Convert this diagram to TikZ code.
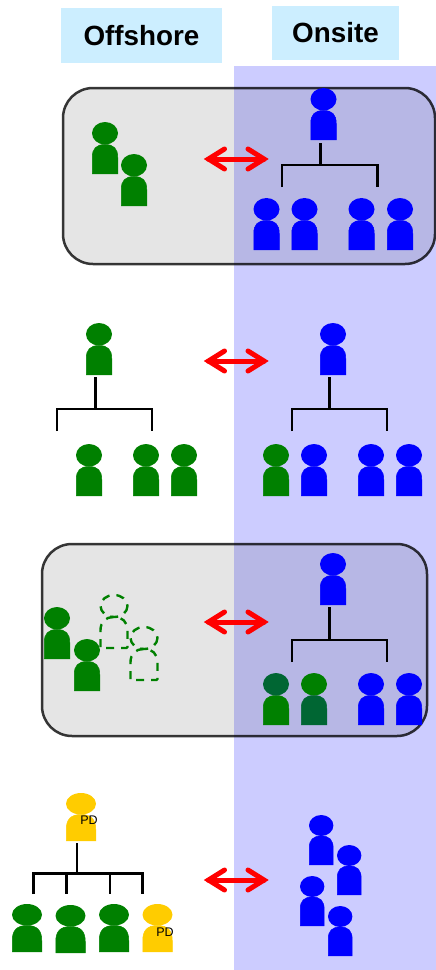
\documentclass[tikz,border=0pt]{standalone}
\usepackage{fontspec}
\setmainfont{Liberation Sans}
\definecolor{zone}{HTML}{CCCCFF}
\definecolor{hdr}{HTML}{CCEEFF}
\definecolor{gr}{HTML}{008000}
\definecolor{dk}{HTML}{006633}
\definecolor{bl}{HTML}{0000FF}
\definecolor{ye}{HTML}{FFCC00}
\tikzset{
  x=1pt,y=-1pt,
  hdrbox/.style={fill=hdr,draw=none,inner sep=0pt,font=\bfseries\fontsize{27.8}{30}\selectfont},
  groupbox/.style={rounded corners=30pt,line width=2.5pt,draw=black,draw opacity=.78,fill=black,fill opacity=.1},
  twoway/.style={red,line width=5pt,line cap=round,line join=miter,miter limit=10},
  treeline/.style={black,line width=2.4pt},
  pdlabel/.style={inner sep=0pt,font=\fontsize{12.5}{14}\selectfont},
  slot/.style={inner sep=0pt,outer sep=0pt,draw=none,rectangle},
  ghost/.style={gr,line width=2.4pt,dash pattern=on 8pt off 7pt,rounded corners=1pt},
}
% name, left, top, width, head height, total height, head colour, body colour
\newcommand\person[8]{%
  \pgfmathsetmacro\pa{#2+#4/2}\pgfmathsetmacro\pb{#3+#5/2}%
  \pgfmathsetmacro\pc{#2+#4}\pgfmathsetmacro\pd{#3+#6}%
  \pgfmathsetmacro\pe{#3+#5}\pgfmathsetmacro\pr{#4/2}%
  \pgfmathsetmacro\pf{\pe+\pr}\pgfmathsetmacro\pk{.68*\pr}\pgfmathsetmacro\pl{.34*#4}%
  \filldraw[#8,line width=.5pt] (#2+.25,\pd-.25) -- (#2+.25,\pf) .. controls (#2+.25,\pf-\pk) and (\pa-\pl,\pe) .. (\pa,\pe)
     .. controls (\pa+\pl,\pe) and (\pc-.25,\pf-\pk) .. (\pc-.25,\pf) -- (\pc-.25,\pd-.25) -- cycle;
  \fill[#7] (\pa,\pb) ellipse [x radius=#4/2,y radius=#5/2];
  \node[slot,minimum width=#4,minimum height=#6] (#1) at (\pa,{#3+#6/2}) {};%
}
\newcommand\blueman[3]{\person{#1}{#2}{#3}{26}{22.5}{52}{bl}{bl}}
\newcommand\greenman[3]{\person{#1}{#2}{#3}{26}{22.5}{52}{gr}{gr}}
\newcommand\bigman[5]{\person{#1}{#2}{#3}{30}{21.5}{48}{#4}{#5}}
% name, left, top
\newcommand\ghostman[3]{%
  \pgfmathsetmacro\pa{#2+13.5}\pgfmathsetmacro\pb{#3+11}%
  \pgfmathsetmacro\pc{#2+27}\pgfmathsetmacro\pd{#3+53}\pgfmathsetmacro\pe{#3+22}\pgfmathsetmacro\pf{#3+36}%
  \draw[ghost] (#2,\pd) -- (#2,\pf) .. controls (#2,{\pf-9}) and ({\pa-8},\pe) .. (\pa,\pe)
     .. controls ({\pa+8},\pe) and (\pc,{\pf-9}) .. (\pc,\pf) -- (\pc,\pd) -- cycle;
  \draw[ghost] (\pa,\pb) ellipse [x radius=13.5,y radius=11];
  \node[slot,minimum width=27,minimum height=53] (#1) at (\pa,{#3+26.5}) {};%
}
% prefix, stem x, stem top, bar y, bar left, bar right, drop y
\newcommand\orgtree[7]{%
  \coordinate (#1top) at (#2,#3);\coordinate (#1mid) at (#2,#4);
  \coordinate (#1l) at (#5,#4);\coordinate (#1r) at (#6,#4);
  \coordinate (#1ld) at (#5,#7);\coordinate (#1rd) at (#6,#7);
  \draw[treeline] (#1top) -- (#1mid);
  \draw[treeline] (#1ld) -- (#1l) -- (#1r) -- (#1rd);%
}
% name, y
\newcommand\exchange[2]{%
  \coordinate (#1l) at (208.5,#2);\coordinate (#1r) at (264,#2);
  \draw[twoway] (#1l) -- (#1r);
  \draw[twoway] ([shift={(16,-10)}]#1l) -- (#1l) -- ([shift={(16,10)}]#1l);
  \draw[twoway] ([shift={(-16,-10)}]#1r) -- (#1r) -- ([shift={(-16,10)}]#1r);%
}
\begin{document}
\begin{tikzpicture}
\useasboundingbox (0,0) rectangle (436,970);
\fill[zone] (234,66) rectangle (436,970);
\node[hdrbox,minimum width=161,minimum height=55] (off) at (141.5,35.5) {Offshore};
\node[hdrbox,minimum width=127,minimum height=54] (on) at (335.5,33) {Onsite};
\path[groupbox] (63,88) rectangle (435,264);
\path[groupbox] (42,544) rectangle (427,736);

% row 1
\greenman{ga}{92}{122}\greenman{gb}{121}{154}
\blueman{a0}{310.5}{88}
\orgtree{ta}{320.5}{143}{165}{282}{377.5}{187}
\blueman{a1}{253.5}{198}\blueman{a2}{291.5}{198}\blueman{a3}{348.5}{198}\blueman{a4}{387}{198}
\exchange{e1}{159}

% row 2
\greenman{b0}{86}{323}
\orgtree{tb}{95.5}{377}{409}{57}{152}{431}
\greenman{b1}{76}{444}\greenman{b2}{133}{444}\greenman{b3}{171}{444}
\blueman{c0}{320}{323}
\orgtree{tc}{329.5}{377}{409}{292}{387}{431}
\greenman{c1}{263}{444}\blueman{c2}{301}{444}\blueman{c3}{358}{444}\blueman{c4}{396}{444}
\exchange{e2}{361}

% row 3
\greenman{d1}{44}{607}\greenman{d2}{74}{639}
\ghostman{d3}{100.5}{595}\ghostman{d4}{130.5}{627}
\blueman{f0}{320}{553}
\orgtree{tf}{329.5}{607}{640}{292}{387}{662}
\person{f1}{263}{673}{26}{22.5}{52}{dk}{gr}
\person{f2}{301}{673}{26}{22.5}{52}{gr}{dk}
\blueman{f3}{358}{673}\blueman{f4}{396}{673}
\exchange{e3}{622}

% row 4
\bigman{h0}{66}{793}{ye}{ye}
\node[pdlabel] (h0t) at (89,820.5) {PD};
\coordinate (htop) at (77,843);\coordinate (hmid) at (77,873.5);
\coordinate (hl) at (33.5,873.5);\coordinate (hr) at (142.5,873.5);
\coordinate (hld) at (33.5,894);\coordinate (hrd) at (142.5,894);
\coordinate (hb) at (66.5,873.5);\coordinate (hbd) at (66.5,894);
\coordinate (hc) at (110,873.5);\coordinate (hcd) at (110,894);
\draw[treeline] (htop) -- (hmid);
\draw[treeline] (hld) -- (hl) -- (hr) -- (hrd);
\draw[treeline] (hb) -- (hbd);
\draw[treeline] (hc) -- (hcd);
\bigman{h1}{12}{904}{gr}{gr}\bigman{h2}{55.5}{905}{gr}{gr}\bigman{h3}{99}{904}{gr}{gr}
\bigman{h4}{142.5}{904}{ye}{ye}
\node[pdlabel] (h4t) at (165,932.5) {PD};
\person{j1}{309}{815}{24.4}{21}{50}{bl}{bl}
\person{j2}{337}{845}{24.4}{21}{50}{bl}{bl}
\person{j3}{300}{876}{24.4}{21}{50}{bl}{bl}
\person{j4}{328}{906}{24.4}{21}{50}{bl}{bl}
\exchange{e4}{880}
\end{tikzpicture}
\end{document}
